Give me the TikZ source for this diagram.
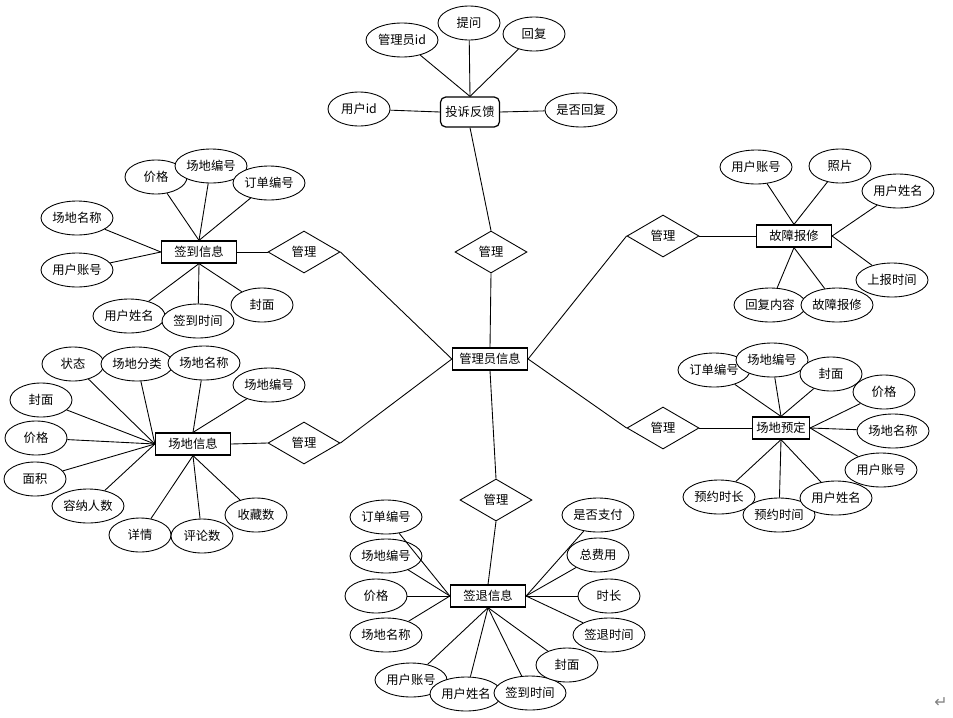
\documentclass[tikz,border=0pt]{standalone}
\usepackage{fontspec}
\setmainfont{Noto Sans CJK SC}
\newfontfamily\symfont{DejaVu Sans}
\usetikzlibrary{shapes.geometric,shadows}

\begin{document}
\begin{tikzpicture}[x=0.02cm, y=-0.02cm,
        font=\fontsize{7}{8}\selectfont,
        every path/.style={line width=0.5pt},
        entity/.style={rectangle, draw, line width=0.7pt, minimum width=1.5cm, minimum height=0.44cm, inner sep=1pt, fill=white,
          drop shadow={shadow xshift=0.5pt, shadow yshift=-0.5pt, fill=gray!80, opacity=1}},
        attr/.style={ellipse, draw, fill=white, minimum width=1.44cm, minimum height=0.68cm, inner sep=0pt},
        shortattr/.style={attr, minimum width=1.24cm},
        rel/.style={diamond, draw, fill=white, minimum width=1.44cm, minimum height=0.84cm, inner sep=0pt}
      ]
      \useasboundingbox (0,0) rectangle (953,717);

      % centre
      \node[entity] (admin) at (490,359) {管理员信息};
      \node[rel] (relTop) at (491,252) {管理};
      \node[rel] (relBot) at (496,500) {管理};
      \node[rel] (relUL) at (304,252) {管理};
      \node[rel] (relLL) at (304,443) {管理};
      \node[rel] (relUR) at (663,236) {管理};
      \node[rel] (relLR) at (663,428) {管理};

      % complaint feedback
      \node[draw, rounded corners=3pt, line width=0.7pt, minimum width=1.18cm, minimum height=0.6cm, inner sep=1pt] (fb) at (470,112) {投诉反馈};
      \node[attr] (fbAdmin) at (402,40) {管理员id};
      \node[shortattr] (fbAsk) at (469,23) {提问};
      \node[shortattr] (fbReply) at (534,34) {回复};
      \node[shortattr] (fbUser) at (359,109) {用户id};
      \node[attr] (fbDone) at (581,110) {是否回复};
      \draw (fbAdmin) -- (fb.north);
      \draw (fbAsk) -- (fb.north);
      \draw (fbReply) -- (fb.north);
      \draw (fbUser) -- (fb.west);
      \draw (fbDone) -- (fb.east);

      % check-in
      \node[entity] (sign) at (199,252) {签到信息};
      \node[shortattr] (sgPrice) at (156,177) {价格};
      \node[attr] (sgNo) at (211,166) {场地编号};
      \node[attr] (sgOrder) at (269,183) {订单编号};
      \node[attr] (sgName) at (77,218) {场地名称};
      \node[attr] (sgAcct) at (77,270) {用户账号};
      \node[attr] (sgUser) at (129,316) {用户姓名};
      \node[attr] (sgTime) at (198,321) {签到时间};
      \node[shortattr] (sgCover) at (262,305) {封面};
      \foreach \a in {sgPrice,sgNo,sgOrder} \draw (\a) -- (sign.north);
      \foreach \a in {sgName,sgAcct} \draw (\a) -- (sign.west);
      \foreach \a in {sgUser,sgTime,sgCover} \draw (\a) -- (sign.south);

      % venue
      \node[entity] (venue) at (193,444) {场地信息};
      \node[shortattr] (vnState) at (73,364) {状态};
      \node[attr] (vnType) at (137,364) {场地分类};
      \node[attr] (vnName) at (204,363) {场地名称};
      \node[attr] (vnNo) at (269,385) {场地编号};
      \node[shortattr] (vnCover) at (41,400) {封面};
      \node[shortattr] (vnPrice) at (36,438) {价格};
      \node[shortattr] (vnArea) at (35,479) {面积};
      \node[attr] (vnCap) at (88,506) {容纳人数};
      \node[shortattr] (vnInfo) at (140,535) {详情};
      \node[shortattr] (vnCmt) at (202,536) {评论数};
      \node[shortattr] (vnFav) at (256,515) {收藏数};
      \foreach \a in {vnState,vnType,vnCover,vnPrice,vnArea,vnCap} \draw (\a) -- (venue.west);
      \foreach \a in {vnName,vnNo} \draw (\a) -- (venue.north);
      \foreach \a in {vnInfo,vnCmt,vnFav} \draw (\a) -- (venue.south);

      % repair
      \node[entity] (repair) at (794,236) {故障报修};
      \node[attr] (rpAcct) at (756,167) {用户账号};
      \node[shortattr] (rpPhoto) at (840,166) {照片};
      \node[attr] (rpUser) at (898,191) {用户姓名};
      \node[attr] (rpTime) at (892,280) {上报时间};
      \node[attr] (rpReply) at (770,305) {回复内容};
      \node[attr] (rpFault) at (837,305) {故障报修};
      \foreach \a in {rpAcct,rpPhoto} \draw (\a) -- (repair.north);
      \foreach \a in {rpUser,rpTime} \draw (\a) -- (repair.east);
      \foreach \a in {rpReply,rpFault} \draw (\a) -- (repair.south);

      % booking
      \node[entity, minimum width=1.14cm] (book) at (781,428) {场地预定};
      \node[attr] (bkOrder) at (714,370) {订单编号};
      \node[attr] (bkNo) at (772,360) {场地编号};
      \node[shortattr] (bkCover) at (831,374) {封面};
      \node[shortattr] (bkPrice) at (884,392) {价格};
      \node[attr] (bkName) at (893,431) {场地名称};
      \node[attr] (bkAcct) at (881,470) {用户账号};
      \node[attr] (bkLen) at (719,497) {预约时长};
      \node[attr] (bkTime) at (779,515) {预约时间};
      \node[attr] (bkUser) at (836,498) {用户姓名};
      \foreach \a in {bkOrder,bkNo,bkCover} \draw (\a) -- (book.north);
      \foreach \a in {bkPrice,bkName,bkAcct} \draw (\a) -- (book.east);
      \foreach \a in {bkUser,bkTime,bkLen} \draw (\a) -- (book.south);

      % check-out
      \node[entity] (leave) at (488,596) {签退信息};
      \node[attr] (lvOrder) at (386,517) {订单编号};
      \node[attr] (lvNo) at (386,556) {场地编号};
      \node[shortattr] (lvPrice) at (376,596) {价格};
      \node[attr] (lvName) at (386,635) {场地名称};
      \node[attr] (lvAcct) at (411,680) {用户账号};
      \node[attr] (lvUser) at (466,694) {用户姓名};
      \node[attr] (lvIn) at (530,693) {签到时间};
      \node[shortattr] (lvCover) at (567,665) {封面};
      \node[attr] (lvPaid) at (598,515) {是否支付};
      \node[shortattr] (lvFee) at (598,555) {总费用};
      \node[shortattr] (lvLen) at (609,596) {时长};
      \node[attr] (lvOut) at (609,635) {签退时间};
      \foreach \a in {lvOrder,lvNo,lvPrice,lvName} \draw (\a) -- (leave.west);
      \foreach \a in {lvAcct,lvUser,lvIn,lvCover} \draw (\a) -- (leave.south);
      \foreach \a in {lvPaid,lvFee,lvLen,lvOut} \draw (\a) -- (leave.east);

      % relationships
      \draw (fb.south) -- (relTop.north);
      \draw (relTop.south) -- (admin.north);
      \draw (admin.south) -- (relBot.north);
      \draw (relBot.south) -- (leave.north);
      \draw (sign.east) -- (relUL.west);
      \draw (relUL.east) -- (admin.west);
      \draw (venue.east) -- (relLL.west);
      \draw (relLL.east) -- (admin.west);
      \draw (repair.west) -- (relUR.east);
      \draw (relUR.west) -- (admin.east);
      \draw (book.west) -- (relLR.east);
      \draw (relLR.west) -- (admin.east);

      \node[text=gray, font=\symfont\small] (ret) at (941,703) {↵};
    \end{tikzpicture}
\end{document}
